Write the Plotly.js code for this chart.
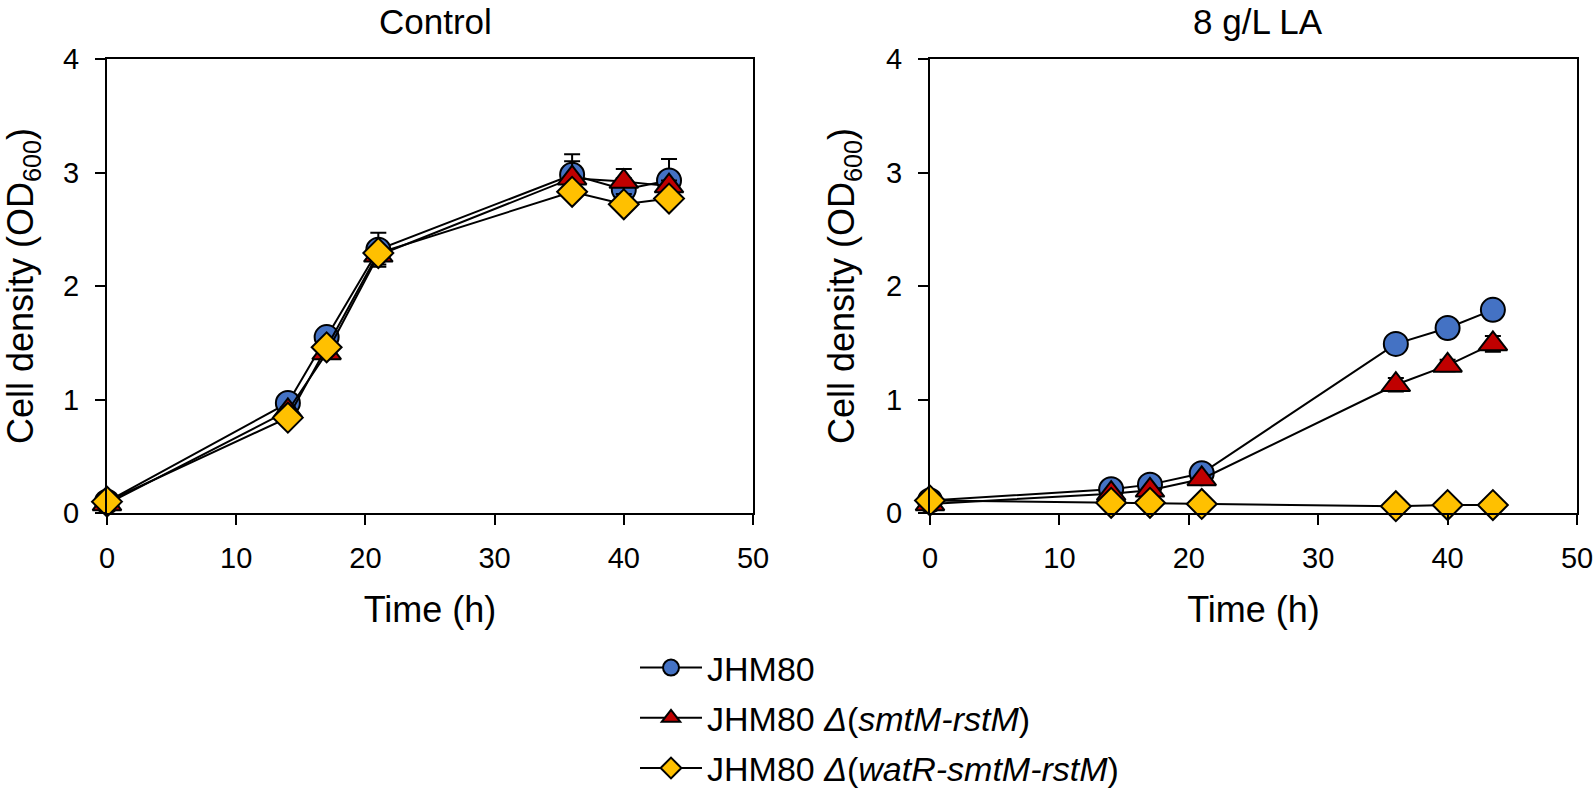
<!DOCTYPE html>
<html>
<head>
<meta charset="utf-8">
<script src="https://cdn.plot.ly/plotly-3.0.1.min.js"></script>
<style>html,body{margin:0;padding:0;background:#fff;}#chart{width:1594px;height:795px;}</style>
</head>
<body>
<div id="chart"></div>
<script>
// Data
const timeH = [0, 14, 17, 21, 36, 40, 43.5];
const seriesNames = ['JHM80', 'JHM80 <i>Δ</i>(<i>smtM-rstM</i>)', 'JHM80 <i>Δ</i>(<i>watR-smtM-rstM</i>)'];
const ctrlJHM80 = [0.10, 0.97, 1.55, 2.32, 2.98, 2.85, 2.93];
const ctrlSmtM  = [0.08, 0.90, 1.41, 2.27, 2.95, 2.92, 2.88];
const ctrlWatR  = [0.10, 0.84, 1.46, 2.29, 2.83, 2.72, 2.77];
const ctrlJHM80Err = [0.01, 0.03, 0.05, 0.15, 0.18, 0.10, 0.19];
const ctrlSmtMErr  = [0.01, 0.03, 0.05, 0.08, 0.15, 0.11, 0.05];
const ctrlWatRErr  = [0.01, 0.02, 0.04, 0.05, 0.05, 0.05, 0.04];
const laJHM80 = [0.11, 0.21, 0.25, 0.35, 1.49, 1.63, 1.79];
const laSmtM  = [0.08, 0.17, 0.20, 0.30, 1.13, 1.30, 1.49];
const laWatR  = [0.11, 0.09, 0.09, 0.08, 0.06, 0.07, 0.07];
const laJHM80Err = [0.01, 0.01, 0.01, 0.02, 0.02, 0.02, 0.02];
const laSmtMErr  = [0.01, 0.01, 0.02, 0.02, 0.06, 0.05, 0.07];
const laWatRErr  = [0.01, 0.01, 0.01, 0.01, 0.01, 0.01, 0.01];
const xTicks = [0, 10, 20, 30, 40, 50];
const yTicks = [0, 1, 2, 3, 4];
const panelTitles = ['Control', '8 g/L LA'];

const FONT = '"Liberation Sans", Arial, Helvetica, sans-serif';
const styles = [
  {symbol: 'circle', color: '#4472C4', size: 24},
  {symbol: 'triangle-up', color: '#C00000', size: 25},
  {symbol: 'diamond', color: '#FFC000', size: 23}
];

function mk(y, err, i, xa, ya, showLeg) {
  const s = styles[i];
  return {
    x: timeH, y: y, xaxis: xa, yaxis: ya,
    type: 'scatter', mode: 'lines+markers',
    name: seriesNames[i], legendgroup: 'g' + i, showlegend: showLeg,
    cliponaxis: false,
    line: {color: '#000', width: 2},
    marker: {symbol: s.symbol, color: s.color, size: s.size, line: {color: '#000', width: 2}},
    error_y: {type: 'data', array: err, visible: true, color: '#000', thickness: 2, width: 8}
  };
}

const data = [
  mk(ctrlJHM80, ctrlJHM80Err, 0, 'x', 'y', true),
  mk(ctrlSmtM, ctrlSmtMErr, 1, 'x', 'y', true),
  mk(ctrlWatR, ctrlWatRErr, 2, 'x', 'y', true),
  mk(laJHM80, laJHM80Err, 0, 'x2', 'y2', false),
  mk(laSmtM, laSmtMErr, 1, 'x2', 'y2', false),
  mk(laWatR, laWatRErr, 2, 'x2', 'y2', false)
];

function xax(domain, anchor) {
  return {
    domain: domain, anchor: anchor, range: [0, 50], tickvals: xTicks,
    ticks: 'outside', ticklen: 10, tickwidth: 2, tickcolor: '#000',
    showline: true, linewidth: 2, linecolor: '#000', mirror: true,
    showgrid: false, zeroline: false, ticklabelstandoff: 8,
    tickfont: {family: FONT, size: 29, color: '#000'},
    title: {text: 'Time (h)', font: {family: FONT, size: 36, color: '#000'}, standoff: 24}
  };
}
function yax(domain, anchor, standoff) {
  return {
    domain: domain, anchor: anchor, range: [0, 4], tickvals: yTicks,
    ticks: 'outside', ticklen: 10, tickwidth: 2, tickcolor: '#000',
    showline: true, linewidth: 2, linecolor: '#000', mirror: true,
    showgrid: false, zeroline: false, ticklabelstandoff: 10,
    tickfont: {family: FONT, size: 29, color: '#000'},
    title: {text: 'Cell density (OD<sub>600</sub>)', font: {family: FONT, size: 36, color: '#000'}, standoff: standoff}
  };
}
const yd = [1 - 513 / 795, 1 - 59 / 795];
const layout = {
  width: 1594, height: 795,
  margin: {l: 0, r: 0, t: 0, b: 0, autoexpand: false},
  paper_bgcolor: '#fff', plot_bgcolor: '#fff',
  font: {family: FONT, color: '#000'},
  xaxis: xax([107 / 1594, 753 / 1594], 'y'),
  yaxis: yax(yd, 'x', 30),
  xaxis2: xax([930 / 1594, 1577 / 1594], 'y2'),
  yaxis2: yax(yd, 'x2', 20),
  showlegend: true,
  legend: {
    x: 635 / 1594, xanchor: 'left', y: 1 - 639 / 795, yanchor: 'top',
    font: {family: FONT, size: 34, color: '#000'},
    itemwidth: 62,
    tracegroupgap: 3, bgcolor: 'rgba(0,0,0,0)', itemsizing: 'trace'
  },
  annotations: [
    {text: panelTitles[0], xref: 'paper', yref: 'paper', x: 436 / 1594, y: 1 - 22 / 795,
     xanchor: 'center', yanchor: 'middle', showarrow: false, font: {family: FONT, size: 35, color: '#000'}},
    {text: panelTitles[1], xref: 'paper', yref: 'paper', x: 1258 / 1594, y: 1 - 22 / 795,
     xanchor: 'center', yanchor: 'middle', showarrow: false, font: {family: FONT, size: 35, color: '#000'}}
  ]
};
Plotly.newPlot('chart', data, layout, {displayModeBar: false, staticPlot: true});
</script>
</body>
</html>
